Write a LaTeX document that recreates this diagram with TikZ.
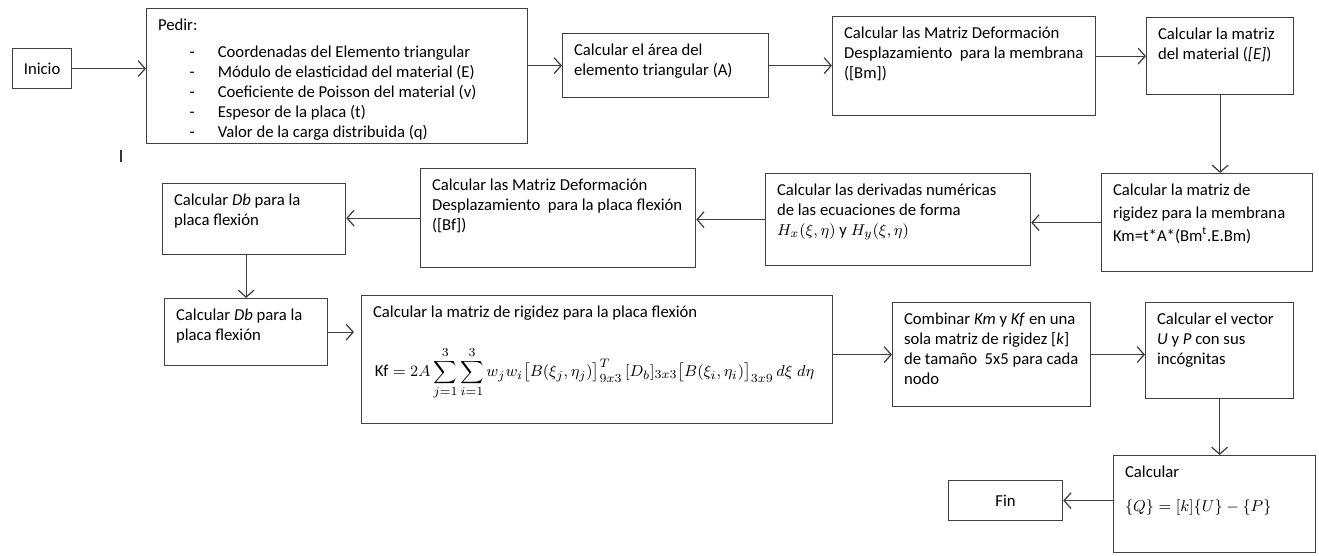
\documentclass[tikz,border=0pt]{standalone}
\usepackage{amsmath}
\usepackage{fontspec}
\setmainfont{Carlito}
\usepackage{tikz}
\usetikzlibrary{positioning,calc,arrows.meta}
\newlength{\pxu}
\setlength{\pxu}{0.02cm}
\newcommand{\caja}[3]{\parbox[t][\dimexpr#2\pxu-12pt\relax][t]{\dimexpr#1\pxu-13pt\relax}{\raggedright#3}}
\newcommand{\guion}{\makebox[34pt][l]{\hspace*{18pt}-}}

\begin{document}
\begin{tikzpicture}[x=0.02cm,y=-0.02cm,
        paso/.style={draw=black!75, line width=0.7pt, anchor=north west, inner xsep=6.5pt, inner ysep=6pt, font=\fontsize{9.5}{11.4}\selectfont},
        extremo/.style={draw=black!75, line width=0.7pt, anchor=north west, inner sep=0pt, font=\fontsize{9.5}{11.4}\selectfont},
        flecha/.style={draw=black!75, line width=0.7pt, -{Straight Barb[length=4pt,width=9pt]}}]
            \useasboundingbox (0,0) rectangle (1319,555);
            \node[extremo, minimum width=59*0.02cm, minimum height=40*0.02cm] (inicio) at (12,48) {Inicio};
            \node[paso] (pedir) at (146,8) {\caja{381}{135}{Pedir:\\[4pt]
                \guion Coordenadas del Elemento triangular\\
                \guion Módulo de elasticidad del material (E)\\
                \guion Coeficiente de Poisson del material (v)\\
                \guion Espesor de la placa (t)\\
                \guion Valor de la carga distribuida (q)}};
            \draw[line width=1.2pt, black!80] (121,150) -- (121,162);
            \node[paso] (area) at (562,33) {\caja{206}{64}{Calcular el área del\\elemento triangular (A)}};
            \node[paso] (bm) at (832,16) {\caja{263}{99}{Calcular las Matriz Deformación\\Desplazamiento\ \ para la membrana\\([Bm])}};
            \node[paso] (mate) at (1146,17) {\caja{147}{77}{Calcular la matriz\\del material (\textit{[E]})}};
            \node[paso] (km) at (1101,173) {\caja{211}{98}{Calcular la matriz de\\[1.5pt]rigidez para la membrana\\[1.5pt]Km=t*A*(Bm\textsuperscript{t}.E.Bm)}};
            \node[paso] (deri) at (765,173) {\caja{265}{92}{Calcular las derivadas numéricas\\de las ecuaciones de forma\\$H_x(\xi,\eta)$ y $H_y(\xi,\eta)$}};
            \node[paso] (bf) at (420,168) {\caja{275}{99}{Calcular las Matriz Deformación\\Desplazamiento\ \ para la placa flexión\\([Bf])}};
            \node[paso] (dba) at (162,183) {\caja{183}{71}{Calcular \textit{Db} para la\\placa flexión}};
            \node[paso] (dbb) at (164,298) {\caja{163}{67}{Calcular \textit{Db} para la\\placa flexión}};
            \node[paso] (kf) at (361,295) {\caja{471}{128}{Calcular la matriz de rigidez para la placa flexión\\[14pt]
                \hspace*{1pt}$\displaystyle \mathrm{Kf}=2A\sum_{j=1}^{3}\sum_{i=1}^{3}w_jw_i\big[B(\xi_j,\eta_j)\big]^{T}_{9x3}\,[D_b]_{3x3}\big[B(\xi_i,\eta_i)\big]_{3x9}\,d\xi\;d\eta$}};
            \node[paso] (comb) at (892,302) {\caja{198}{104}{Combinar \textit{Km} y \textit{Kf} en una\\sola matriz de rigidez [\textit{k}]\\de tamaño\ \ 5x5 para cada\\nodo}};
            \node[paso] (vec) at (1145,302) {\caja{148}{96}{Calcular el vector\\\textit{U} y \textit{P} con sus\\incógnitas}};
            \node[paso] (q) at (1113,455) {\caja{202}{97}{Calcular\\[8pt]$\{Q\}=[k]\{U\}-\{P\}$}};
            \node[extremo, minimum width=114*0.02cm, minimum height=40*0.02cm] (fin) at (948,480) {Fin};
            \draw[flecha] (inicio.east) -- (inicio.east -| pedir.west);
            \draw[flecha] (area.west -| pedir.east) -- (area.west);
            \draw[flecha] (area.east) -- (area.east -| bm.west);
            \draw[flecha] (bm.east |- mate.west) -- (mate.west);
            \draw[flecha] (mate.south) -- (mate.south |- km.north);
            \draw[flecha] (km.west) -- (km.west -| deri.east);
            \draw[flecha] (deri.west) -- (deri.west -| bf.east);
            \draw[flecha] (bf.west) -- (bf.west -| dba.east);
            \draw[flecha] (dbb.north |- dba.south) -- (dbb.north);
            \draw[flecha, shorten >=4pt] (dbb.east) -- (dbb.east -| kf.west);
            \draw[flecha] (kf.east |- comb.west) -- (comb.west);
            \draw[flecha] (comb.east) -- (comb.east -| vec.west);
            \draw[flecha] (vec.south) -- (vec.south |- q.north);
            \draw[flecha] (q.west |- fin.east) -- (fin.east);
\end{tikzpicture}
\end{document}
